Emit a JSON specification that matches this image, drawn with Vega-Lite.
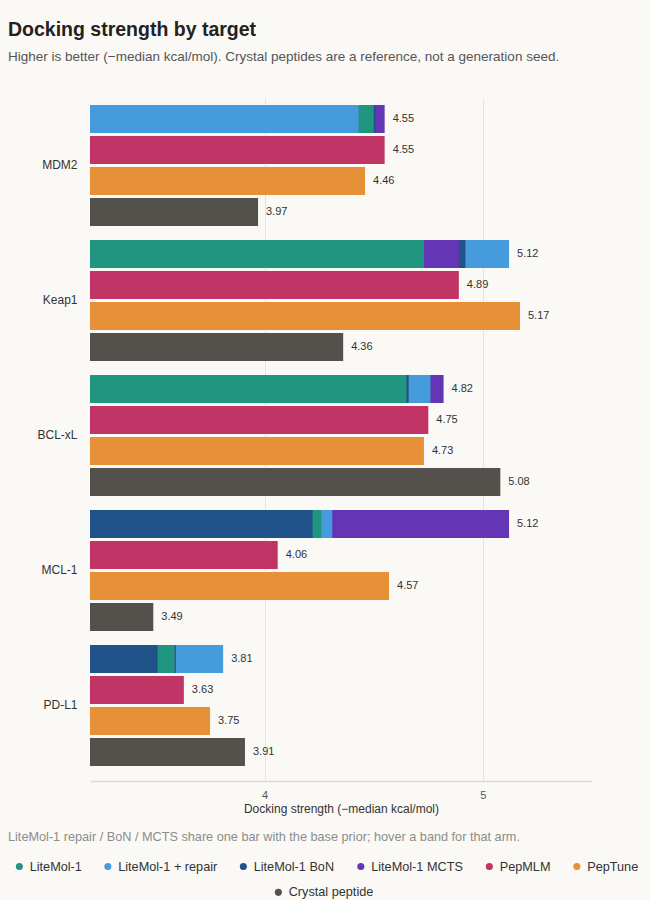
{
  "$schema": "https://vega.github.io/schema/vega-lite/v6.json",
  "width": 502,
  "height": 683,
  "autosize": {"type": "none"},
  "padding": {"left": 90, "top": 98, "right": 58, "bottom": 119},
  "background": "#faf9f5",
  "title": {
    "text": "Docking strength by target",
    "subtitle": "Higher is better (\u2212median kcal/mol). Crystal peptides are a reference, not a generation seed.",
    "anchor": "start",
    "frame": "group",
    "dx": -82,
    "offset": 34,
    "fontSize": 19.5,
    "fontWeight": "bold",
    "color": "#222222",
    "subtitleFontSize": 13.5,
    "subtitleColor": "#555555",
    "subtitlePadding": 9
  },
  "config": {
    "font": "Liberation Sans",
    "view": {"stroke": null},
    "legend": {
      "labelFontSize": 12.7,
      "labelColor": "#333333",
      "symbolType": "circle",
      "symbolSize": 50,
      "symbolStrokeWidth": 0,
      "symbolOffset": 5,
      "labelOffset": 4,
      "columnPadding": 14.5,
      "padding": 0
    }
  },
  "data": {
    "values": [
      {"target": "MDM2", "row": "LiteMol-1", "arm": "LiteMol-1", "value": 4.50},
      {"target": "MDM2", "row": "LiteMol-1", "arm": "LiteMol-1 + repair", "value": 4.43},
      {"target": "MDM2", "row": "LiteMol-1", "arm": "LiteMol-1 BoN", "value": 4.51},
      {"target": "MDM2", "row": "LiteMol-1", "arm": "LiteMol-1 MCTS", "value": 4.55},
      {"target": "MDM2", "row": "PepMLM", "arm": "PepMLM", "value": 4.55},
      {"target": "MDM2", "row": "PepTune", "arm": "PepTune", "value": 4.46},
      {"target": "MDM2", "row": "Crystal peptide", "arm": "Crystal peptide", "value": 3.97},
      {"target": "Keap1", "row": "LiteMol-1", "arm": "LiteMol-1", "value": 4.73},
      {"target": "Keap1", "row": "LiteMol-1", "arm": "LiteMol-1 + repair", "value": 5.12},
      {"target": "Keap1", "row": "LiteMol-1", "arm": "LiteMol-1 BoN", "value": 4.92},
      {"target": "Keap1", "row": "LiteMol-1", "arm": "LiteMol-1 MCTS", "value": 4.89},
      {"target": "Keap1", "row": "PepMLM", "arm": "PepMLM", "value": 4.89},
      {"target": "Keap1", "row": "PepTune", "arm": "PepTune", "value": 5.17},
      {"target": "Keap1", "row": "Crystal peptide", "arm": "Crystal peptide", "value": 4.36},
      {"target": "BCL-xL", "row": "LiteMol-1", "arm": "LiteMol-1", "value": 4.65},
      {"target": "BCL-xL", "row": "LiteMol-1", "arm": "LiteMol-1 + repair", "value": 4.76},
      {"target": "BCL-xL", "row": "LiteMol-1", "arm": "LiteMol-1 BoN", "value": 4.66},
      {"target": "BCL-xL", "row": "LiteMol-1", "arm": "LiteMol-1 MCTS", "value": 4.82},
      {"target": "BCL-xL", "row": "PepMLM", "arm": "PepMLM", "value": 4.75},
      {"target": "BCL-xL", "row": "PepTune", "arm": "PepTune", "value": 4.73},
      {"target": "BCL-xL", "row": "Crystal peptide", "arm": "Crystal peptide", "value": 5.08},
      {"target": "MCL-1", "row": "LiteMol-1", "arm": "LiteMol-1", "value": 4.26},
      {"target": "MCL-1", "row": "LiteMol-1", "arm": "LiteMol-1 + repair", "value": 4.31},
      {"target": "MCL-1", "row": "LiteMol-1", "arm": "LiteMol-1 BoN", "value": 4.22},
      {"target": "MCL-1", "row": "LiteMol-1", "arm": "LiteMol-1 MCTS", "value": 5.12},
      {"target": "MCL-1", "row": "PepMLM", "arm": "PepMLM", "value": 4.06},
      {"target": "MCL-1", "row": "PepTune", "arm": "PepTune", "value": 4.57},
      {"target": "MCL-1", "row": "Crystal peptide", "arm": "Crystal peptide", "value": 3.49},
      {"target": "PD-L1", "row": "LiteMol-1", "arm": "LiteMol-1", "value": 3.588},
      {"target": "PD-L1", "row": "LiteMol-1", "arm": "LiteMol-1 + repair", "value": 3.81},
      {"target": "PD-L1", "row": "LiteMol-1", "arm": "LiteMol-1 BoN", "value": 3.51},
      {"target": "PD-L1", "row": "LiteMol-1", "arm": "LiteMol-1 MCTS", "value": 3.594},
      {"target": "PD-L1", "row": "PepMLM", "arm": "PepMLM", "value": 3.63},
      {"target": "PD-L1", "row": "PepTune", "arm": "PepTune", "value": 3.75},
      {"target": "PD-L1", "row": "Crystal peptide", "arm": "Crystal peptide", "value": 3.91}
    ]
  },
  "encoding": {
    "y": {
      "field": "target",
      "type": "nominal",
      "sort": ["MDM2", "Keap1", "BCL-xL", "MCL-1", "PD-L1"],
      "scale": {"paddingInner": 0.1037, "paddingOuter": 0.0815, "align": 0.318},
      "axis": {
        "title": null,
        "domain": false,
        "ticks": false,
        "grid": false,
        "labelPadding": 13,
        "labelFontSize": 12,
        "labelColor": "#333333"
      }
    },
    "yOffset": {
      "field": "row",
      "type": "nominal",
      "sort": ["LiteMol-1", "PepMLM", "PepTune", "Crystal peptide"],
      "scale": {"paddingInner": 0.09677, "paddingOuter": 0}
    }
  },
  "layer": [
    {
      "transform": [{"filter": "datum.arm !== 'Crystal peptide'"}],
      "mark": {"type": "bar", "clip": true},
      "encoding": {
        "x": {
          "field": "value",
          "type": "quantitative",
          "stack": null,
          "scale": {"domain": [3.2, 5.5], "zero": false, "nice": false},
          "axis": {
            "title": "Docking strength (\u2212median kcal/mol)",
            "values": [4, 5],
            "format": "d",
            "ticks": false,
            "grid": true,
            "gridColor": "#e6e4df",
            "gridWidth": 1,
            "domain": true,
            "domainColor": "#dedcd6",
            "domainWidth": 1.5,
            "labelPadding": 8,
            "labelFontSize": 11,
            "labelColor": "#555555",
            "titleFontSize": 12,
            "titleFontWeight": "normal",
            "titleColor": "#333333",
            "titlePadding": 3
          }
        },
        "color": {
          "field": "arm",
          "type": "nominal",
          "scale": {
            "domain": ["LiteMol-1", "LiteMol-1 + repair", "LiteMol-1 BoN", "LiteMol-1 MCTS", "PepMLM", "PepTune"],
            "range": ["#209681", "#459bdc", "#21538b", "#6435b4", "#c03565", "#e69038"]
          },
          "legend": {
            "orient": "none",
            "legendX": -82,
            "legendY": 733,
            "direction": "horizontal",
            "columns": 6,
            "title": "LiteMol-1 repair / BoN / MCTS share one bar with the base prior; hover a band for that arm.",
            "titleFontSize": 12.7,
            "titleFontWeight": "normal",
            "titleColor": "#8c8c8c",
            "titlePadding": 16,
            "titleLimit": 640
          }
        },
        "order": {"field": "value", "sort": "descending"},
        "tooltip": [
          {"field": "target", "type": "nominal"},
          {"field": "arm", "type": "nominal"},
          {"field": "value", "type": "quantitative", "format": ".2f"}
        ]
      }
    },
    {
      "transform": [{"filter": "datum.arm === 'Crystal peptide'"}],
      "mark": {"type": "bar", "clip": true},
      "encoding": {
        "x": {"field": "value", "type": "quantitative", "stack": null},
        "fill": {
          "field": "arm",
          "type": "nominal",
          "scale": {"domain": ["Crystal peptide"], "range": ["#54504b"]},
          "legend": {
            "orient": "none",
            "legendX": 177,
            "legendY": 788,
            "title": null
          }
        },
        "tooltip": [
          {"field": "target", "type": "nominal"},
          {"field": "arm", "type": "nominal"},
          {"field": "value", "type": "quantitative", "format": ".2f"}
        ]
      }
    },
    {
      "transform": [
        {"aggregate": [{"op": "max", "field": "value", "as": "best"}], "groupby": ["target", "row"]}
      ],
      "mark": {"type": "text", "align": "left", "baseline": "middle", "dx": 8, "fontSize": 11, "color": "#333333"},
      "encoding": {
        "x": {"field": "best", "type": "quantitative"},
        "text": {"field": "best", "type": "quantitative", "format": ".2f"}
      }
    }
  ]
}
